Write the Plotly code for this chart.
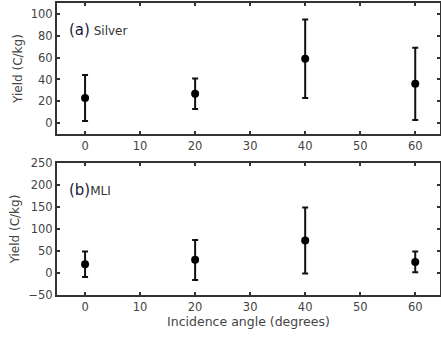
import plotly.graph_objects as go
from plotly.subplots import make_subplots

angles = [0, 20, 40, 60]
silver_y = [23, 27, 59, 36]
silver_hi = [44, 41, 95, 69]
silver_lo = [2, 13, 23, 3]
mli_y = [20, 30, 74, 25]
mli_hi = [49, 75, 149, 49]
mli_lo = [-9, -16, -1, 2]

fig = make_subplots(rows=2, cols=1, vertical_spacing=0.1)

def add(row, y, hi, lo):
    fig.add_trace(go.Scatter(
        x=angles, y=y, mode="markers",
        marker=dict(color="black", size=8),
        error_y=dict(type="data", symmetric=False,
                     array=[h - v for h, v in zip(hi, y)],
                     arrayminus=[v - l for l, v in zip(lo, y)],
                     color="#111", thickness=2, width=3),
        showlegend=False), row=row, col=1)

add(1, silver_y, silver_hi, silver_lo)
add(2, mli_y, mli_hi, mli_lo)

axis_common = dict(showline=True, linecolor="#333", linewidth=2, mirror="ticks",
                   ticks="inside", ticklen=3, tickwidth=2, tickcolor="#333",
                   showgrid=False, zeroline=False, automargin=False,
                   tickfont=dict(family="DejaVu Sans", size=11.5, color="#444"))

title_font = dict(family="DejaVu Sans", size=12, color="#444")

fig.update_xaxes(range=[-5.1, 64.5], dtick=10, tick0=0, **axis_common)
fig.update_yaxes(**axis_common)
fig.update_yaxes(range=[-10, 110], dtick=20, row=1, col=1,
                 title=dict(text="Yield (C/kg)", font=title_font, standoff=6))
fig.update_yaxes(range=[-50, 250], dtick=50, row=2, col=1,
                 title=dict(text="Yield (C/kg)", font=title_font, standoff=6))
fig.update_xaxes(row=2, col=1,
                 title=dict(text="Incidence angle (degrees)",
                            font=dict(family="DejaVu Sans", size=12.5, color="#444"), standoff=4))

fig.update_layout(
    width=441, height=340,
    margin=dict(l=57, r=1, t=3, b=45),
    plot_bgcolor="white", paper_bgcolor="white",
    yaxis=dict(domain=[0.551, 1.0]),
    yaxis2=dict(domain=[0.0, 0.452]),
)

fig.add_annotation(x=0.025, y=0.794, xref="x domain", yref="y domain",
                   text="<span style='font-size:15px;color:#1a1a3a'>(a)</span> <span style='font-size:12px;color:#333'>Silver</span>",
                   showarrow=False, xanchor="left", yanchor="middle",
                   font=dict(family="DejaVu Sans"))
fig.add_annotation(x=0.025, y=0.795, xref="x2 domain", yref="y2 domain",
                   text="<span style='font-size:15px;color:#1a1a3a'>(b)</span><span style='font-size:12px;color:#333'>MLI</span>",
                   showarrow=False, xanchor="left", yanchor="middle",
                   font=dict(family="DejaVu Sans"))

fig.write_html("out.html")
